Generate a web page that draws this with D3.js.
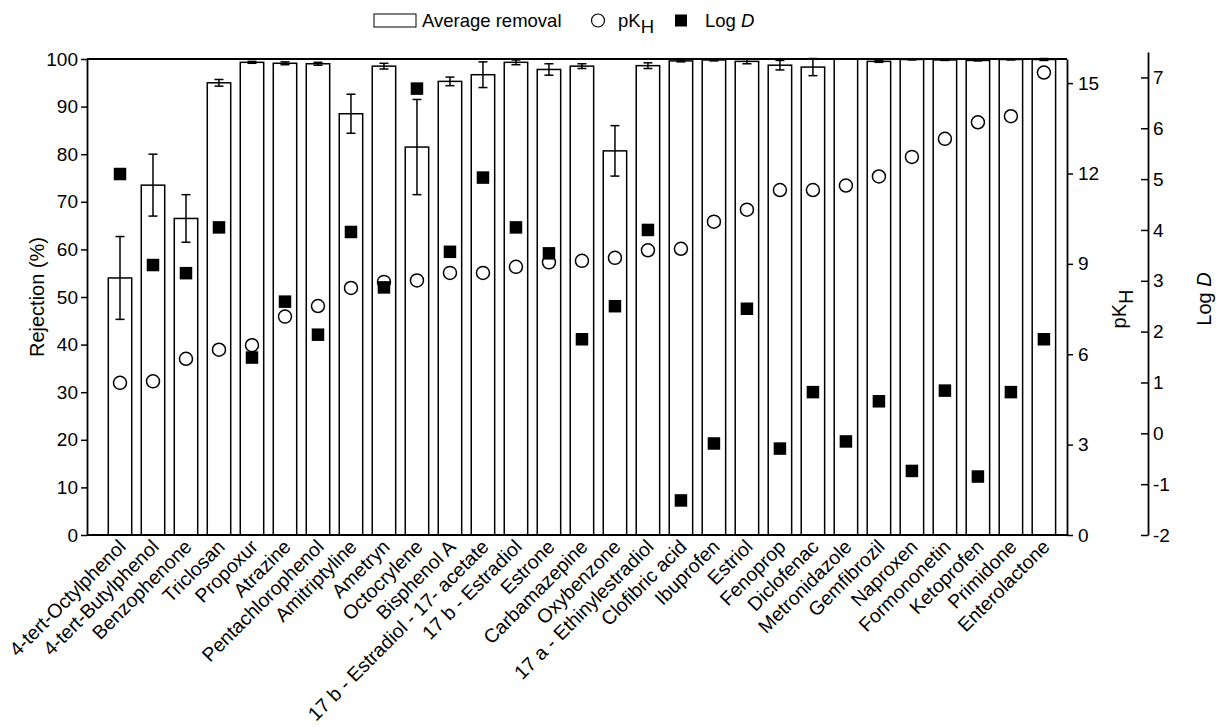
<!DOCTYPE html>
<html>
<head>
<meta charset="utf-8">
<script src="https://cdn.jsdelivr.net/npm/d3@7"></script>
<style>
  body { margin: 0; background: #fff; }
  svg { display: block; font-family: "Liberation Sans", Arial, sans-serif; }
</style>
</head>
<body>
<div id="chart"></div>
<script>
// compounds along the x axis
var categories = ["4-tert-Octylphenol", "4-tert-Butylphenol", "Benzophenone", "Triclosan", "Propoxur",
  "Atrazine", "Pentachlorophenol", "Amitriptyline", "Ametryn", "Octocrylene", "Bisphenol A",
  "17 b - Estradiol - 17- acetate", "17 b - Estradiol", "Estrone", "Carbamazepine", "Oxybenzone",
  "17 a - Ethinylestradiol", "Clofibric acid", "Ibuprofen", "Estriol", "Fenoprop", "Diclofenac",
  "Metronidazole", "Gemfibrozil", "Naproxen", "Formononetin", "Ketoprofen", "Primidone", "Enterolactone"];

// average removal (%) and its error
var removal    = [54, 73.5, 66.5, 95, 99.3, 99.1, 99, 88.5, 98.5, 81.5, 95.3, 96.7, 99.3, 97.8, 98.5,
  80.7, 98.6, 99.6, 99.8, 99.5, 98.7, 98.3, 100, 99.5, 99.9, 99.8, 99.7, 99.9, 99.9];
var removalErr = [8.7, 6.5, 5, 0.7, 0.2, 0.3, 0.3, 4.1, 0.6, 10, 0.9, 2.7, 0.5, 1.2, 0.5,
  5.3, 0.6, 0.2, 0.2, 0.5, 1, 1.8, 0, 0.2, 0.1, 0.1, 0.1, 0.1, 0.2];

// pK_H (right axis 1)
var pKH  = [5.05, 5.1, 5.85, 6.15, 6.3, 7.25, 7.6, 8.2, 8.4, 8.45, 8.7, 8.7, 8.9, 9.05, 9.1,
  9.2, 9.45, 9.5, 10.4, 10.8, 11.45, 11.45, 11.6, 11.9, 12.55, 13.15, 13.7, 13.9, 15.35];

// Log D (right axis 2)
var logD = [5.1, 3.31, 3.15, 4.05, 1.49, 2.59, 1.94, 3.96, 2.87, 6.78, 3.57, 5.03, 4.05, 3.54, 1.85,
  2.5, 4.0, -1.32, -0.2, 2.45, -0.3, 0.81, -0.16, 0.63, -0.74, 0.84, -0.85, 0.81, 1.85];

var leftTicks = [0, 10, 20, 30, 40, 50, 60, 70, 80, 90, 100];
var pkTicks   = [0, 3, 6, 9, 12, 15];
var logTicks  = [-2, -1, 0, 1, 2, 3, 4, 5, 6, 7];

(function () {
  var W = 1221, H = 727;
  var L = 87, R = 1067, T = 59, B = 535;
  var fs = 19;

  var svg = d3.select("#chart").append("svg").attr("width", W).attr("height", H);

  var x    = d3.scaleLinear().domain([0, 29.7]).range([L, R]);
  var y    = d3.scaleLinear().domain([0, 100]).range([B, T]);
  var yPk  = d3.scaleLinear().domain([0, 15.8]).range([B, T]);
  var yLog = d3.scaleLinear().domain([-2, 7.5]).range([B, 52]);

  var idx = d3.range(categories.length);
  var bw = x(0.71) - x(0);

  // ── Bars ──────────────────────────────────────────────────────────────────
  svg.append("g").selectAll("rect").data(idx).join("rect")
    .attr("x", function (i) { return x(i + 1) - bw / 2; })
    .attr("y", function (i) { return y(removal[i]); })
    .attr("width", bw)
    .attr("height", function (i) { return y(0) - y(removal[i]); })
    .attr("fill", "#fff").attr("stroke", "#000").attr("stroke-width", 1.5);

  // ── Error bars ────────────────────────────────────────────────────────────
  var eg = svg.append("g").attr("stroke", "#000").attr("stroke-width", 1.5);
  idx.filter(function (i) { return removalErr[i] > 0; }).forEach(function (i) {
    var cx = x(i + 1), y1 = y(removal[i] + removalErr[i]), y2 = y(removal[i] - removalErr[i]);
    eg.append("line").attr("x1", cx).attr("x2", cx).attr("y1", y1).attr("y2", y2);
    eg.append("line").attr("x1", cx - 4.5).attr("x2", cx + 4.5).attr("y1", y1).attr("y2", y1);
    eg.append("line").attr("x1", cx - 4.5).attr("x2", cx + 4.5).attr("y1", y2).attr("y2", y2);
  });

  // ── pK_H circles, Log D squares ───────────────────────────────────────────
  svg.append("g").selectAll("circle").data(idx).join("circle")
    .attr("cx", function (i) { return x(i + 1); })
    .attr("cy", function (i) { return yPk(pKH[i]); })
    .attr("r", 6.5)
    .attr("fill", "#fff").attr("stroke", "#000").attr("stroke-width", 1.5);

  var sq = 12.5;
  svg.append("g").selectAll("rect").data(idx).join("rect")
    .attr("x", function (i) { return x(i + 1) - sq / 2; })
    .attr("y", function (i) { return yLog(logD[i]) - sq / 2; })
    .attr("width", sq).attr("height", sq).attr("fill", "#000");

  // ── Frame ─────────────────────────────────────────────────────────────────
  svg.append("line").attr("x1", L).attr("x2", R).attr("y1", T).attr("y2", T)
    .attr("stroke", "#000").attr("stroke-width", 1.8);
  svg.append("line").attr("x1", L).attr("x2", R).attr("y1", B).attr("y2", B)
    .attr("stroke", "#000").attr("stroke-width", 2.2);

  function styleAxis(g) {
    g.select(".domain").attr("stroke", "#000").attr("stroke-width", 1.8);
    g.selectAll(".tick line").attr("stroke", "#000").attr("stroke-width", 1.5);
    g.selectAll("text").attr("fill", "#000").style("font-size", fs + "px")
      .style("font-family", "'Liberation Sans', Arial, sans-serif");
  }

  // left axis
  var gL = svg.append("g").attr("transform", "translate(" + L + ",0)");
  gL.call(d3.axisLeft(y).tickValues(d3.range(5, 100, 10)).tickSize(3).tickSizeOuter(0).tickFormat(""));
  gL.call(d3.axisLeft(y).tickValues(leftTicks).tickSize(6).tickSizeOuter(0).tickPadding(3));
  styleAxis(gL);

  // pK_H axis
  var gP = svg.append("g").attr("transform", "translate(" + R + ",0)");
  gP.call(d3.axisRight(yPk).tickValues(d3.range(1.5, 15.8, 3)).tickSize(4).tickSizeOuter(0).tickFormat(""));
  gP.call(d3.axisRight(yPk).tickValues(pkTicks).tickSize(6).tickSizeOuter(0).tickPadding(5));
  styleAxis(gP);

  // Log D axis (ticks pointing left)
  var xLog = 1148;
  var gD = svg.append("g").attr("transform", "translate(" + xLog + ",0)");
  gD.call(d3.axisRight(yLog).tickValues(d3.range(-1.5, 7.5, 1)).tickSize(-4).tickSizeOuter(0).tickFormat(""));
  gD.call(d3.axisRight(yLog).tickValues(logTicks).tickSize(-7).tickSizeOuter(0).tickPadding(5)
    .tickFormat(function (d) { return String(d); }));
  styleAxis(gD);

  // ── Axis titles ───────────────────────────────────────────────────────────
  svg.append("text").attr("transform", "translate(44," + ((T + B) / 2) + ") rotate(-90)")
    .attr("text-anchor", "middle").style("font-size", "20px").text("Rejection (%)");

  var tP = svg.append("text").attr("transform", "translate(1126," + ((T + B) / 2 + 12) + ") rotate(-90)")
    .attr("text-anchor", "middle").style("font-size", "20px");
  tP.append("tspan").text("pK");
  tP.append("tspan").attr("dy", 7).text("H");

  var tD = svg.append("text").attr("transform", "translate(1211," + ((T + B) / 2 + 2) + ") rotate(-90)")
    .attr("text-anchor", "middle").style("font-size", "20px");
  tD.append("tspan").text("Log ");
  tD.append("tspan").style("font-style", "italic").text("D");

  // ── Category labels ───────────────────────────────────────────────────────
  svg.append("g").selectAll("text").data(idx).join("text")
    .attr("transform", function (i) { return "translate(" + (x(i + 1) + 7) + ",548) rotate(-45)"; })
    .attr("text-anchor", "end")
    .style("font-size", "19.5px")
    .text(function (i) { return categories[i]; });

  // ── Legend ────────────────────────────────────────────────────────────────
  var lg = svg.append("g");
  lg.append("rect").attr("x", 374).attr("y", 14).attr("width", 42).attr("height", 13)
    .attr("fill", "#fff").attr("stroke", "#000").attr("stroke-width", 1);
  lg.append("text").attr("x", 422).attr("y", 27).style("font-size", "18.5px").text("Average removal");
  lg.append("circle").attr("cx", 598).attr("cy", 20.5).attr("r", 6.5)
    .attr("fill", "#fff").attr("stroke", "#000").attr("stroke-width", 1.2);
  var lp = lg.append("text").attr("x", 618).attr("y", 27).style("font-size", "18.5px");
  lp.append("tspan").text("pK");
  lp.append("tspan").attr("dy", 6).text("H");
  lg.append("rect").attr("x", 675).attr("y", 14.5).attr("width", 12).attr("height", 12).attr("fill", "#000");
  var ld = lg.append("text").attr("x", 705).attr("y", 27).style("font-size", "18.5px");
  ld.append("tspan").text("Log ");
  ld.append("tspan").style("font-style", "italic").text("D");
})();
</script>
</body>
</html>
